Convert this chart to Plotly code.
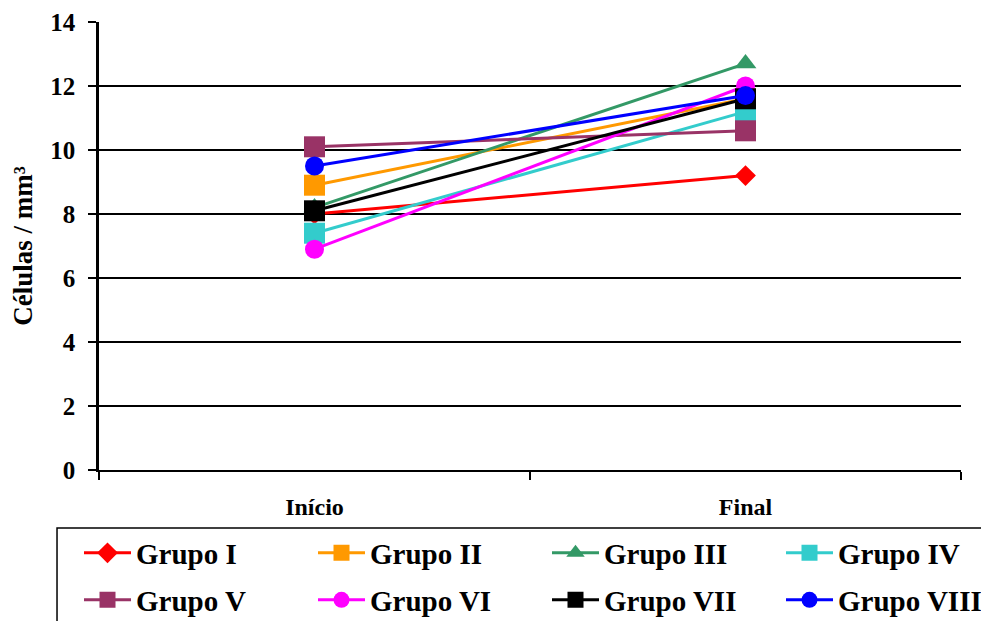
import plotly.graph_objects as go

categories = ["Início", "Final"]
groups = ["Grupo I", "Grupo II", "Grupo III", "Grupo IV",
          "Grupo V", "Grupo VI", "Grupo VII", "Grupo VIII"]
grupo_i = [8.0, 9.2]
grupo_ii = [8.9, 11.6]
grupo_iii = [8.2, 12.7]
grupo_iv = [7.4, 11.2]
grupo_v = [10.1, 10.6]
grupo_vi = [6.9, 12.0]
grupo_vii = [8.1, 11.6]
grupo_viii = [9.5, 11.7]
values = [grupo_i, grupo_ii, grupo_iii, grupo_iv, grupo_v, grupo_vi, grupo_vii, grupo_viii]
y_ticks = [0, 2, 4, 6, 8, 10, 12, 14]
colors = ["#FF0000", "#FF9900", "#339966", "#33CCCC", "#993366", "#FF00FF", "#000000", "#0000FF"]
symbols = ["diamond", "square", "triangle-up", "square", "square", "circle", "square", "circle"]
sizes = [16, 21, 19, 21, 21, 19, 21, 19]

fig = go.Figure()
for i, (name, vals, c, s, sz) in enumerate(zip(groups, values, colors, symbols, sizes)):
    fig.add_trace(go.Scatter(
        x=categories, y=vals, name="<b>" + name + "</b>", mode="lines+markers",
        line=dict(color=c, width=3),
        marker=dict(color=c, symbol=s, size=sz, line=dict(width=0)),
        legend="legend" if i < 4 else "legend2",
    ))

font = "Liberation Serif"
leg_common = dict(
    orientation="h", xanchor="left", yanchor="middle",
    borderwidth=0, bgcolor="rgba(0,0,0,0)",
    font=dict(family=font, size=29, color="black"),
    entrywidth=172, entrywidthmode="pixels",
    traceorder="normal", itemwidth=47,
)
fig.update_layout(
    width=989, height=621,
    margin=dict(l=91, r=36, t=14, b=159, autoexpand=False),
    paper_bgcolor="white", plot_bgcolor="white",
    font=dict(family=font, color="black"),
    showlegend=True,
    legend=dict(x=-0.0232, y=-0.1853, **leg_common),
    legend2=dict(x=-0.0232, y=-0.2902, **leg_common),
    xaxis=dict(
        type="category", tickson="boundaries", ticks="outside", ticklen=8,
        tickcolor="black", tickwidth=1.5,
        showline=True, linecolor="black", linewidth=2,
        showgrid=False, automargin=False,
        tickmode="array", tickvals=categories,
        ticktext=["<b>" + c + "</b>" for c in categories],
        tickfont=dict(family=font, size=24, color="black"),
        ticklabelstandoff=14,
        range=[-0.5, 1.5],
    ),
    yaxis=dict(
        range=[0, 14], tickmode="array", tickvals=y_ticks,
        ticktext=["<b>%d</b>" % v for v in y_ticks],
        ticks="outside", ticklen=8,
        tickcolor="black", tickwidth=2,
        showline=True, linecolor="black", linewidth=2.5,
        showgrid=True, gridcolor="black", gridwidth=2,
        zeroline=False, automargin=False,
        tickfont=dict(family=font, size=25, color="black"),
        ticklabelstandoff=8,
        title=dict(text="<b>Células / mm³</b>", font=dict(family=font, size=27, color="black"), standoff=22),
    ),
    shapes=[dict(type="rect", xref="paper", yref="paper",
                 x0=-0.0487, x1=1.031, y0=-0.40, y1=-0.1295,
                 line=dict(color="black", width=1.5), fillcolor="rgba(0,0,0,0)")],
)
fig.write_html("out.html")
